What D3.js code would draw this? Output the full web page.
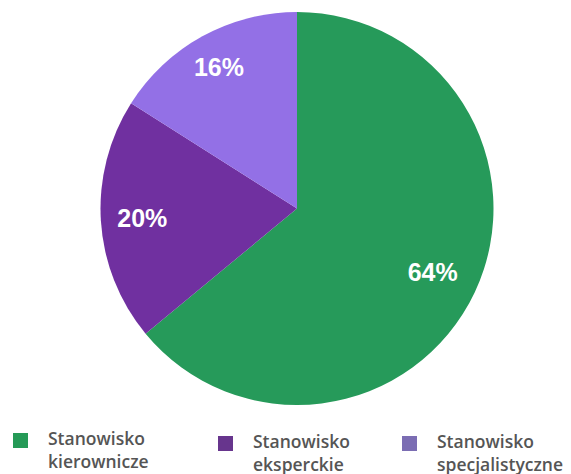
<!DOCTYPE html>
<html>
<head>
<meta charset="utf-8">
<script src="https://cdn.jsdelivr.net/npm/d3@7"></script>
<style>
  body { margin: 0; background: #fff; overflow: hidden; }
</style>
</head>
<body>
<div id="chart"></div>
<script>
// data
var categories = ["Stanowisko kierownicze", "Stanowisko eksperckie", "Stanowisko specjalistyczne"];
var values = [64, 20, 16];
var sliceColors = ["#269a5a", "#7030a0", "#9370e6"];
var legendColors = ["#259a57", "#67358d", "#7b6db3"];

var svgWidth = 571;
var svgHeight = 474;
var cx = 297, cy = 208.5, radius = 196.5;

var svg = d3.select("#chart")
  .append("svg")
  .attr("width", svgWidth)
  .attr("height", svgHeight);

var pieGroup = svg.append("g")
  .attr("transform", `translate(${cx}, ${cy})`);

var pie = d3.pie().sort(null).value(d => d);
var arcs = pie(values);

var arc = d3.arc().innerRadius(0).outerRadius(radius);

pieGroup.selectAll("path")
  .data(arcs)
  .enter()
  .append("path")
  .attr("d", arc)
  .attr("fill", (d, i) => sliceColors[i]);

// percent labels (label distance from centre per slice)
var labelRadius = [150, 155, 162];
pieGroup.selectAll("text")
  .data(arcs)
  .enter()
  .append("text")
  .attr("transform", (d, i) => {
    var r = labelRadius[i];
    return `translate(${d3.arc().innerRadius(r).outerRadius(r).centroid(d)})`;
  })
  .attr("text-anchor", "middle")
  .attr("dy", "0.36em")
  .style("font-family", "'Liberation Sans', Arial, sans-serif")
  .style("font-weight", "bold")
  .style("font-size", "25px")
  .style("fill", "#fff")
  .text(d => d.data + "%");

// legend
var legendX = [13, 218, 402];
var legendY = [433, 436, 436];

var legend = svg.selectAll(".legend")
  .data(categories)
  .enter()
  .append("g")
  .attr("class", "legend")
  .attr("transform", (d, i) => `translate(${legendX[i]}, ${legendY[i]})`);

legend.append("rect")
  .attr("width", 15)
  .attr("height", 15)
  .attr("fill", (d, i) => legendColors[i]);

var legendText = legend.append("text")
  .attr("y", 12)
  .style("font-family", "'Open Sans', sans-serif")
  .style("font-weight", "600")
  .style("font-size", "17.5px")
  .style("fill", "#555");

legendText.selectAll("tspan")
  .data(d => d.split(" "))
  .enter()
  .append("tspan")
  .attr("x", 35)
  .attr("dy", (d, i) => i === 0 ? 0 : 23)
  .text(d => d);
</script>
</body>
</html>
